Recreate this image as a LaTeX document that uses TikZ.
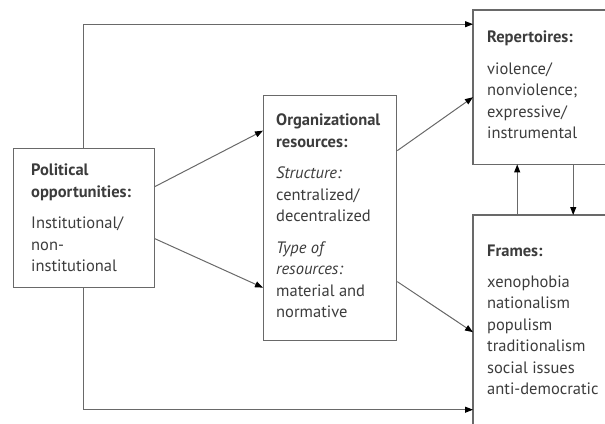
\documentclass[tikz,border=0pt]{standalone}
\usepackage{fontspec}
\setmainfont{PT Sans}
\usetikzlibrary{arrows.meta}
\definecolor{linegray}{RGB}{105,105,105}
\definecolor{txtgray}{RGB}{60,60,60}
\begin{document}
\begin{tikzpicture}[x=1pt,y=-1pt,
  box/.style={draw=linegray, line width=1.3pt, rectangle, inner sep=0pt, anchor=north west},
  openbox/.style={rectangle, inner sep=0pt, anchor=north west},
  boxline/.style={draw=linegray, line width=1.3pt},
  txt/.style={anchor=north west, inner sep=0pt, align=left, text=txtgray,
    font=\fontsize{16.5}{21.5}\selectfont},
  arr/.style={draw=linegray, line width=1pt, -{Triangle[length=8pt,width=6pt,fill=black,color=black]}}]
\useasboundingbox (0,0) rectangle (605,423);
\clip (0,0) rectangle (605,423);
% boxes
\node[box, minimum width=141pt, minimum height=139pt] (pol) at (12.5,148) {};
\node[box, minimum width=133pt, minimum height=245pt] (org) at (263,95) {};
\node[openbox, minimum width=220pt, minimum height=154pt] (rep) at (473,10) {};
\node[openbox, minimum width=220pt, minimum height=220pt] (fra) at (473,215) {};
\draw[boxline] (rep.north east) -- (rep.north west) -- (rep.south west) -- (rep.south east);
\draw[boxline] (fra.north east) -- (fra.north west) -- (fra.south west) -- (fra.south east);
% texts
\node[txt] (poltxt) at (31,164) {\textbf{Political}\\\textbf{opportunities:}\\[10pt]Institutional/\\non-\\institutional};
\node[txt] (orgtxt) at (276,114) {\textbf{Organizational}\\\textbf{resources:}\\[10pt]\textit{Structure:}\\centralized/\\decentralized\\[10pt]\textit{Type of}\\\textit{resources:}\\material and\\normative};
\node[txt] (reptxt) at (487,31) {\textbf{Repertoires:}\\[10pt]violence/\\nonviolence;\\expressive/\\instrumental};
\node[txt] (fratxt) at (487,245) {\textbf{Frames:}\\[9pt]xenophobia\\nationalism\\populism\\traditionalism\\social issues\\anti-democratic};
% connectors
\draw[arr] ([yshift=31.5pt]pol.east) -- ([yshift=87.5pt]org.west);
\draw[arr] ([yshift=-20.5pt]pol.east) -- ([yshift=-69.5pt]org.west);
\draw[arr] ([yshift=67.5pt]org.east) -- ([yshift=-10pt]rep.west);
\draw[arr] ([yshift=-63.5pt]org.east) -- ([yshift=-7pt]fra.west);
\draw[arr] (pol.north) |- ([yshift=63pt]rep.west);
\draw[arr] (pol.south) |- ([yshift=-84.5pt]fra.west);
\draw[arr] ([xshift=-66pt]fra.north) -- ([xshift=-66pt]rep.south);
\draw[arr] ([xshift=-10pt]rep.south) -- ([xshift=-10pt]fra.north);
\end{tikzpicture}
\end{document}
